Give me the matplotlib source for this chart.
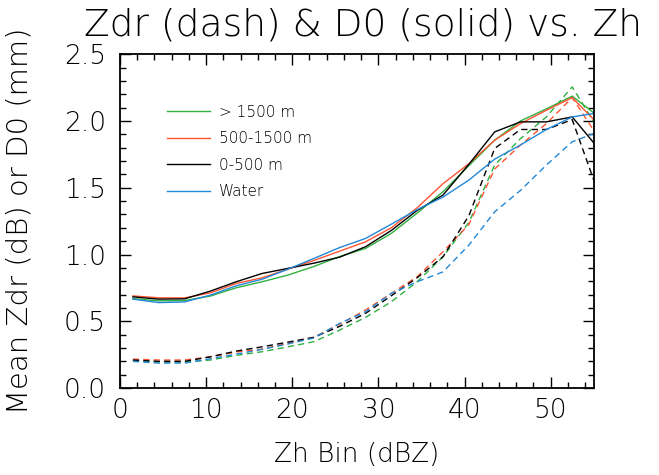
import numpy as np
import matplotlib
matplotlib.use("Agg")
import matplotlib.pyplot as plt
from matplotlib.ticker import MultipleLocator

# Zh bin centres (dBZ)
zh_bins = [1.5, 4.5, 7.5, 10.5, 13.5, 16.5, 19.5, 22.5, 25.5, 28.5,
           31.5, 34.5, 37.5, 40.5, 43.5, 46.5, 49.5, 52.5, 55.5]

# D0 (solid), mm
d0_high = [0.67, 0.653, 0.655, 0.689, 0.751, 0.796, 0.846, 0.91, 0.985, 1.045,
           1.158, 1.31, 1.47, 1.665, 1.856, 2.0, 2.09, 2.186, 2.035]
d0_mid = [0.69, 0.676, 0.675, 0.713, 0.783, 0.826, 0.89, 0.955, 1.025, 1.095,
          1.2, 1.35, 1.53, 1.68, 1.856, 1.98, 2.08, 2.175, 1.977]
d0_low = [0.683, 0.666, 0.668, 0.726, 0.796, 0.858, 0.896, 0.935, 0.98, 1.058,
          1.18, 1.33, 1.445, 1.675, 1.918, 1.993, 1.993, 2.03, 1.797]
d0_water = [0.666, 0.64, 0.645, 0.696, 0.766, 0.815, 0.89, 0.97, 1.052, 1.12,
            1.227, 1.336, 1.43, 1.557, 1.714, 1.82, 1.936, 2.03, 2.061]

# Zdr (dash), dB
zdr_high = [0.205, 0.195, 0.195, 0.21, 0.245, 0.272, 0.309, 0.347, 0.434, 0.529,
            0.646, 0.796, 0.983, 1.24, 1.67, 1.868, 2.03, 2.255, 1.94]
zdr_mid = [0.217, 0.21, 0.21, 0.234, 0.27, 0.292, 0.335, 0.38, 0.478, 0.584,
           0.709, 0.833, 1.02, 1.225, 1.64, 1.82, 1.98, 2.175, 1.88]
zdr_low = [0.21, 0.2, 0.2, 0.234, 0.277, 0.309, 0.344, 0.38, 0.462, 0.559,
           0.691, 0.826, 0.983, 1.29, 1.794, 1.936, 1.936, 2.01, 1.466]
zdr_water = [0.2, 0.187, 0.187, 0.22, 0.254, 0.29, 0.33, 0.375, 0.484, 0.571,
             0.709, 0.796, 0.87, 1.07, 1.32, 1.48, 1.67, 1.844, 1.918]

labels = ["> 1500 m", "500-1500 m", "0-500 m", "Water"]
colors = ["#30b040", "#ff5533", "#000000", "#2288d8"]

plt.rcParams['font.family'] = ['DejaVu Sans']
plt.rcParams['font.weight'] = 'light'
plt.rcParams['axes.labelweight'] = 'light'

fig = plt.figure(figsize=(6.59, 4.75), dpi=100)
ax = fig.add_axes([0.182, 0.183, 0.719, 0.703])

d0_all = [d0_high, d0_mid, d0_low, d0_water]
zdr_all = [zdr_high, zdr_mid, zdr_low, zdr_water]
for d0, zdr, lab, c in zip(d0_all, zdr_all, labels, colors):
    ax.plot(zh_bins, d0, color=c, lw=1.0, label=lab)
    ax.plot(zh_bins, zdr, color=c, lw=1.0, dashes=(4.5, 3))

ax.set_xlim(0, 55)
ax.set_ylim(0, 2.5)
ax.xaxis.set_major_locator(MultipleLocator(10))
ax.xaxis.set_minor_locator(MultipleLocator(2))
ax.yaxis.set_major_locator(MultipleLocator(0.5))
ax.yaxis.set_minor_locator(MultipleLocator(0.1))
ax.yaxis.set_major_formatter(matplotlib.ticker.FormatStrFormatter('%.1f'))
ax.tick_params(which='both', direction='in', top=True, right=True,
               labelsize=19, width=1.0)
ax.tick_params(axis='x', pad=7)
ax.tick_params(axis='y', pad=10)
ax.tick_params(which='major', length=8)
ax.tick_params(which='minor', length=4)
for s in ax.spines.values():
    s.set_linewidth(1.3)

ax.set_xlabel("Zh Bin (dBZ)", fontsize=19, labelpad=14)
ax.set_ylabel("Mean Zdr (dB) or D0 (mm)", fontsize=21, labelpad=22)
fig.text(0.551, 0.947, "Zdr (dash) & D0 (solid) vs. Zh", fontsize=27,
         ha='center', va='center')

ax.legend(loc='upper left', bbox_to_anchor=(0.07, 0.89), frameon=False,
          fontsize=11, handlelength=2.8, labelspacing=0.75, handletextpad=0.6)

fig.savefig("out.png", dpi=100)
